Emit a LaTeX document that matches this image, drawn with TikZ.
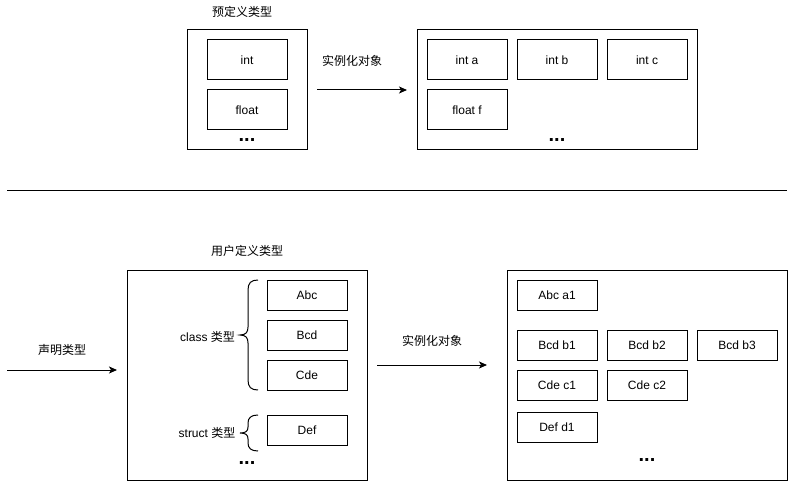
\documentclass[tikz,border=0pt]{standalone}
\usepackage{fontspec}
\setmainfont{Liberation Sans}
\newfontfamily\cjk{Noto Sans CJK SC}
\usetikzlibrary{arrows.meta}
\begin{document}
\begin{tikzpicture}[x=1pt,y=-1pt,
  every node/.style={font=\fontsize{12}{14}\selectfont, inner sep=0pt, outer sep=0pt},
  outerbox/.style={draw, line width=1pt},
  cell/.style={draw, line width=1pt, minimum width=80pt, minimum height=30pt},
  tallcell/.style={cell, minimum height=40pt},
  lbl/.style={font=\fontsize{12}{14}\selectfont},
  dots/.style={font=\fontsize{20}{20}\selectfont\bfseries},
  arr/.style={line width=1pt, -{Stealth[length=8pt,width=7pt,inset=2pt]}},
  brc/.style={line width=1pt}
]
\useasboundingbox (0,0) rectangle (789,481);

% ---------- top: predefined types ----------
\node[outerbox, minimum width=120pt, minimum height=120pt] (pre) at (247.5,90) {};
\node[lbl] (pretitle) at (242,12) {\cjk 预定义类型};
\node[tallcell] (int) at (247,60) {int};
\node[tallcell] (float) at (247,110) {float};
\node[dots] (predots) at (247,140) {...};

\coordinate (a1s) at (317,90);
\coordinate (a1e) at (407,90);
\draw[arr] (a1s) -- (a1e);
\node[lbl] (inst1) at (352,61) {\cjk 实例化对象};

\node[outerbox, minimum width=280pt, minimum height=120pt] (obj1) at (557,90) {};
\node[tallcell] (inta) at (467,60) {int a};
\node[tallcell] (intb) at (557,60) {int b};
\node[tallcell] (intc) at (647,60) {int c};
\node[tallcell] (floatf) at (467,110) {float f};
\node[dots] (objdots1) at (557,140) {...};

% ---------- separator ----------
\coordinate (sepL) at (7,190.5);
\coordinate (sepR) at (787,190.5);
\draw[line width=1pt] (sepL) -- (sepR);

% ---------- bottom: user defined types ----------
\coordinate (a0s) at (7,370);
\coordinate (a0e) at (117,370);
\draw[arr] (a0s) -- (a0e);
\node[lbl] (decl) at (62,350) {\cjk 声明类型};

\node[outerbox, minimum width=240pt, minimum height=210pt] (udt) at (247,375) {};
\node[lbl] (udttitle) at (247,251) {\cjk 用户定义类型};
\node[cell] (abc) at (307,295) {Abc};
\node[cell] (bcd) at (307,335) {Bcd};
\node[cell] (cde) at (307,375) {Cde};
\node[cell] (def) at (307,430) {Def};
\node[lbl] (classlbl) at (207.5,337) {class {\cjk 类型}};
\node[lbl] (structlbl) at (207,433) {struct {\cjk 类型}};
\node[dots] (udtdots) at (247,463) {...};

% braces
\draw[brc] (258,280) .. controls (251,280) and (248,283) .. (248,290) -- (248,327)
  .. controls (248,332) and (246,335) .. (240,335)
  .. controls (246,335) and (248,338) .. (248,343) -- (248,380)
  .. controls (248,387) and (251,390) .. (258,390);
\draw[brc] (258,415) .. controls (251,415) and (248,418) .. (248,423) -- (248,427)
  .. controls (248,431) and (246,433) .. (240,433)
  .. controls (246,433) and (248,435) .. (248,439) -- (248,443)
  .. controls (248,448) and (251,451) .. (258,451);

\coordinate (a2s) at (377,365);
\coordinate (a2e) at (487,365);
\draw[arr] (a2s) -- (a2e);
\node[lbl] (inst2) at (432,341) {\cjk 实例化对象};

\node[outerbox, minimum width=280pt, minimum height=210pt] (obj2) at (647,375) {};
\node[cell] (abca1) at (557,295) {Abc a1};
\node[cell] (bcdb1) at (557,345) {Bcd b1};
\node[cell] (bcdb2) at (647,345) {Bcd b2};
\node[cell] (bcdb3) at (737,345) {Bcd b3};
\node[cell] (cdec1) at (557,385) {Cde c1};
\node[cell] (cdec2) at (647,385) {Cde c2};
\node[cell] (defd1) at (557,427) {Def d1};
\node[dots] (objdots2) at (647,460) {...};
\end{tikzpicture}
\end{document}
